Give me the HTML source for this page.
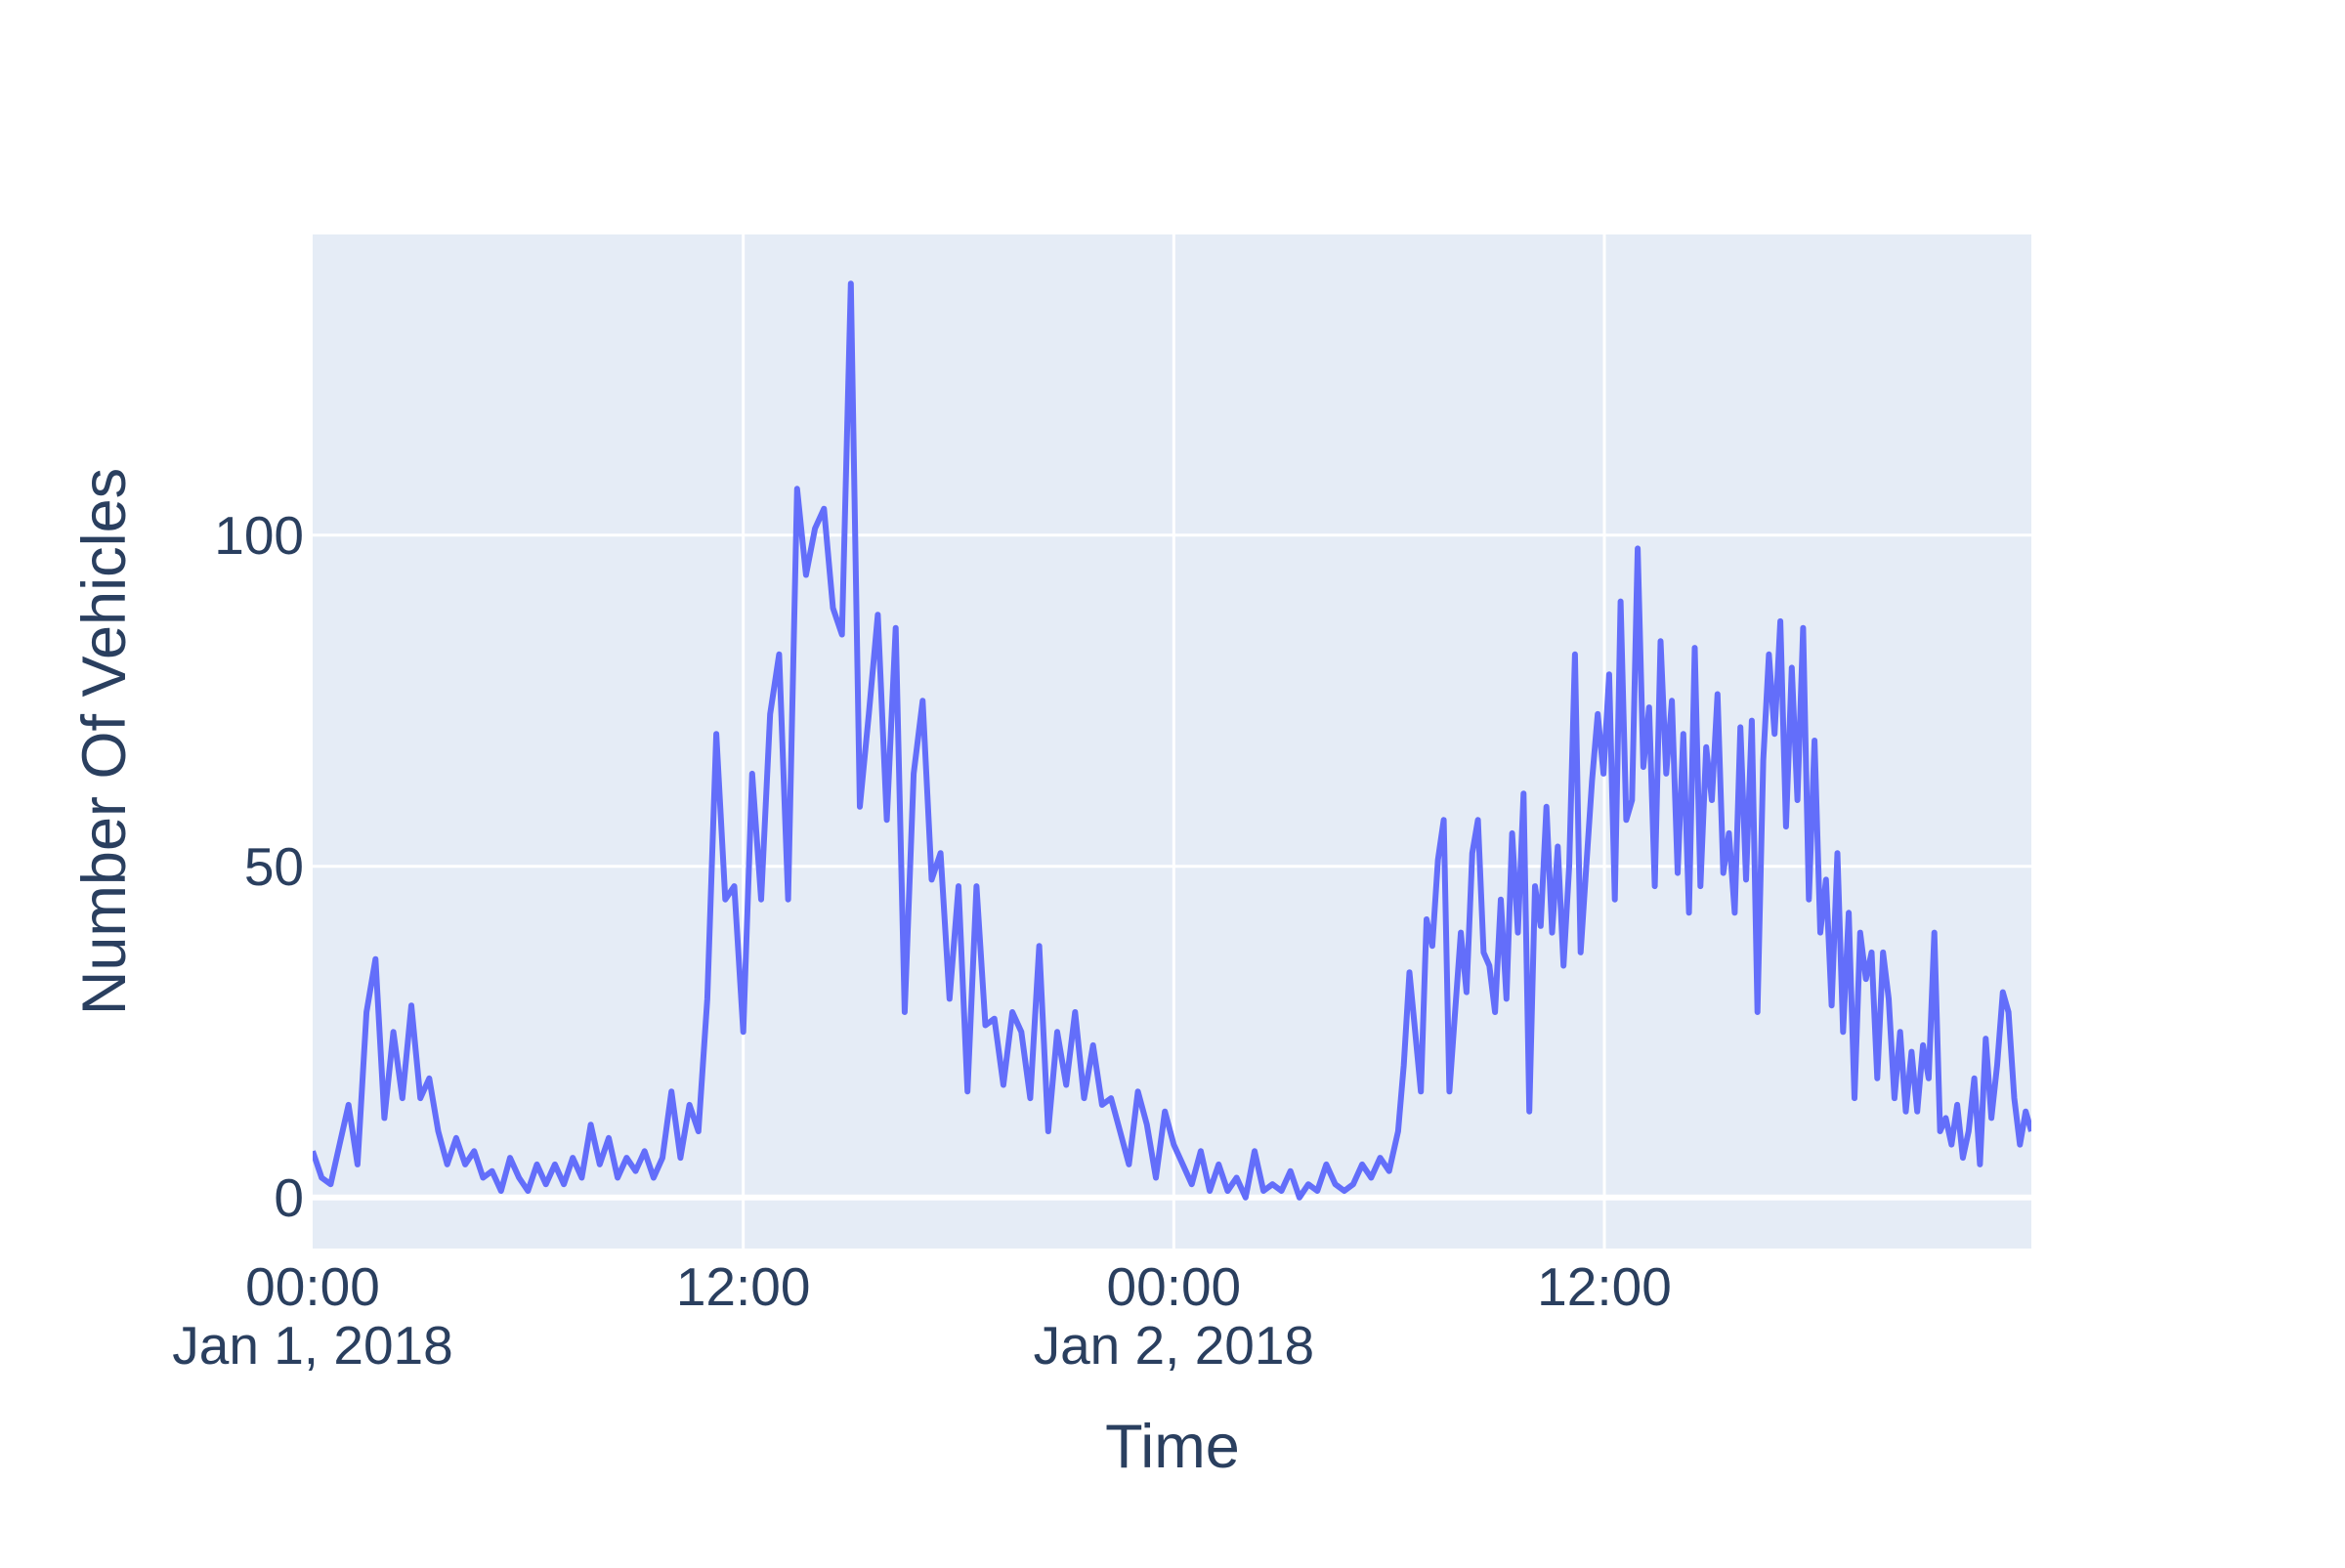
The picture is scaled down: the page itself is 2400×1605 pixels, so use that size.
<!DOCTYPE html>
<html><head><meta charset="utf-8"><style>
html,body{margin:0;padding:0;background:#fff;}
svg text{font-family:"Liberation Sans",sans-serif;fill:#2a3f5f;}
</style></head><body>
<svg id="chart" width="2400" height="1600">
<rect x="0" y="0" width="2400" height="1600" fill="#fff"/>
<rect x="320" y="240" width="1759" height="1038" fill="#e5ecf6"/>
<g id="grid"></g>
<g id="series"></g>
<g id="ticks"></g>
<text x="1200" y="1502" font-size="63" text-anchor="middle">Time</text>
<text transform="translate(128,759) rotate(-90)" font-size="63" text-anchor="middle">Number Of Vehicles</text>
</svg>
<script>
const yTicks = [0, 50, 100];
const xTickHours = [0, 12, 24, 36];
const xTickLabels = ["00:00", "12:00", "00:00", "12:00"];
const xTickDates = ["Jan 1, 2018", "", "Jan 2, 2018", ""];
// first segment: 15-minute samples from 00:00 Jan 1 to 06:00 Jan 2
const vehiclesDay1 = [7,3,2,8, 14,5,28,36, 12,25,15,29, 15,18,10,5, 9,5,7,3, 4,1,6,3, 1,5,2,5, 2,6,3,11, 5,9,3,6, 4,7,3,6, 16,6,14,10,
30,70,45,47,25,64,45,73,82,45,107,94,101,104,89,85,138,59,73,88,57,86,28,64,75,48,52,30,47,16,47,26,27,17,28,25,15,38,10,25,17,28,15,23,14,15,10,5,16,11,3,13,8,
5,2,7,1,5,1,3,0,7,1,2,1,4,0,2,1,5,2,1,2,5,3,6,4];
// second segment: samples from 06:15 Jan 2 to end
const vehiclesDay2 = [10,20,34,25,16,42,38,51,57,16,28,40,31,52,57,37,35,28,45,30,55,40,61,13,47,41,59,40,53,35,50,82,37,50,63,73,64,79,45,90,57,60,98,65,74,47,84,64,75,49,70,43,83,47,68,60,76,49,55,43,71,48,72,28,66,82,70,87,56,80,60,86,45,69,40,48,29,52,25,43,15,40,33,37,18,37,30,15,25,13,22,13,23,18,40,10,12,8,14,6,10,18,5,24,12,20,31,28,15,8,13,10];
const seg2Start = 30.25, seg2End = 47.9;

const X0=320, X1=2079, Y0=240, Y1=1278;
const xMin=0, xMax=47.9, yMin=-7.7, yMax=145.4;
const xs = h => X0 + (h - xMin) / (xMax - xMin) * (X1 - X0);
const ys = v => Y1 - (v - yMin) / (yMax - yMin) * (Y1 - Y0);
const NS = "http://www.w3.org/2000/svg";
const grid = document.getElementById('grid'), ticks = document.getElementById('ticks'), series = document.getElementById('series');

yTicks.forEach(v => {
  const l = document.createElementNS(NS,'line');
  l.setAttribute('x1',X0); l.setAttribute('x2',X1); l.setAttribute('y1',ys(v)); l.setAttribute('y2',ys(v));
  l.setAttribute('stroke','#fff'); l.setAttribute('stroke-width', v===0?6:3);
  
  
  grid.appendChild(l);
  const t = document.createElementNS(NS,'text');
  t.setAttribute('x', X0-9); t.setAttribute('y', ys(v)+19); t.setAttribute('text-anchor','end'); t.setAttribute('font-size','55');
  t.textContent = v;
  
  
  ticks.appendChild(t);
});
xTickHours.forEach((h,i) => {
  if (h > 0) {
    const l = document.createElementNS(NS,'line');
    l.setAttribute('x1',xs(h)); l.setAttribute('x2',xs(h)); l.setAttribute('y1',Y0); l.setAttribute('y2',Y1);
    l.setAttribute('stroke','#fff'); l.setAttribute('stroke-width',3);
    
    
    grid.appendChild(l);
  }
  const t = document.createElementNS(NS,'text');
  t.setAttribute('x', xs(h)); t.setAttribute('y', 1336); t.setAttribute('text-anchor','middle'); t.setAttribute('font-size','55');
  t.textContent = xTickLabels[i];
  
  
  ticks.appendChild(t);
  if (xTickDates[i]) {
    const d = document.createElementNS(NS,'text');
    d.setAttribute('x', xs(h)); d.setAttribute('y', 1396); d.setAttribute('text-anchor','middle'); d.setAttribute('font-size','55');
    d.textContent = xTickDates[i];
    
    
    ticks.appendChild(d);
  }
});
const pts = [];
vehiclesDay1.forEach((v,i) => pts.push([xs(i*0.25), ys(v)]));
vehiclesDay2.forEach((v,i) => pts.push([xs(seg2Start + i*(seg2End-seg2Start)/(vehiclesDay2.length-1)), ys(v)]));
const clip = document.createElementNS(NS,'clipPath'); clip.id='pc';
const cr = document.createElementNS(NS,'rect'); cr.setAttribute('x',X0); cr.setAttribute('y',Y0); cr.setAttribute('width',X1-X0); cr.setAttribute('height',Y1-Y0);
clip.appendChild(cr); document.getElementById('chart').appendChild(clip);
const p = document.createElementNS(NS,'path');
p.setAttribute('d', pts.map((q,i)=>(i?'L':'M')+q[0].toFixed(1)+','+q[1].toFixed(1)).join(''));
p.setAttribute('fill','none'); p.setAttribute('stroke','#636efa'); p.setAttribute('stroke-width','6'); p.setAttribute('stroke-linejoin','round');
p.setAttribute('clip-path','url(#pc)');


series.appendChild(p);
</script>
</body></html>
